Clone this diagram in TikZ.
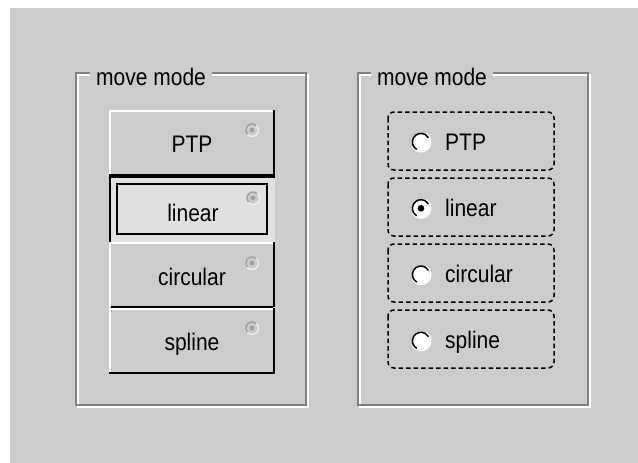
\documentclass[tikz,border=0pt]{standalone}
\usepackage{fontspec}
\setmainfont{Liberation Sans}
\usepackage{graphicx}

\definecolor{face}{RGB}{204,204,204}
\definecolor{shade}{RGB}{128,128,128}
\definecolor{dither}{RGB}{224,224,224}
\definecolor{iconring}{RGB}{160,160,160}
\definecolor{iconlit}{RGB}{238,238,238}

% taller glyphs, like the bitmap dialog font
\newcommand\uitext[1]{\scalebox{1}[1.14]{#1}}

\tikzset{
  uifont/.style={font=\fontsize{21}{24}\selectfont, inner sep=0pt},
  grouplabel/.style={uifont, fill=face, inner xsep=6pt, inner ysep=0pt, anchor=base west},
  btnlabel/.style={uifont, anchor=base},
  radiolabel/.style={uifont, anchor=base west},
  etchdark/.style={draw=shade, line width=1.6pt},
  etchlit/.style={draw=white, line width=1.6pt},
  optbox/.style={draw=black, line width=1.5pt, dash pattern=on 4.5pt off 3pt, rounded corners=6pt},
}

\begin{document}
\begin{tikzpicture}[x=1pt, y=-1pt]
\useasboundingbox (0,0) rectangle (638,463);
\fill[white] (0,0) rectangle (638,463);
\fill[face] (10,8) rectangle (638,463);

% ---------- group frames (etched) ----------
\draw[etchlit]  (78,75) rectangle (308,407);
\draw[etchdark] (76,73) rectangle (306,405);
\draw[etchlit]  (360,75) rectangle (590,407);
\draw[etchdark] (358,73) rectangle (588,405);
\node[grouplabel] (gl1) at (90,85) {\uitext{move mode}};
\node[grouplabel] (gl2) at (371,85) {\uitext{move mode}};

% ---------- push-button style options ----------
% raised: PTP
\fill[face] (109,110) rectangle (275,176);
\draw[white, line width=2pt] (110,175) -- (110,111) -- (274,111);
\draw[black, line width=2pt] (274,110) -- (274,175) -- (109,175);
% pressed: linear
\fill[dither] (109,176) rectangle (275,242);
\draw[black, line width=2pt] (110,242) -- (110,177) -- (275,177);
\draw[black, line width=1.6pt] (117,184) rectangle (267,234);
% raised: circular
\fill[face] (109,242) rectangle (275,308);
\draw[white, line width=2pt] (110,307) -- (110,243) -- (274,243);
\draw[black, line width=2pt] (274,242) -- (274,307);
\draw[shade, line width=2pt] (111,307) -- (273,307);
% raised: spline
\fill[face] (109,308) rectangle (275,374);
\draw[white, line width=2pt] (110,373) -- (110,309) -- (274,309);
\draw[black, line width=2pt] (274,308) -- (274,373) -- (109,373);

% greyed radio marks in the button corners
\foreach \cx/\cy in {252/130, 253/198, 252/263, 252/328} {
  \fill[face] (\cx,\cy) circle (6.5);
  \draw[iconring, line width=1.4pt] (\cx,\cy) ++(135:6) arc (135:315:6);
  \draw[iconlit, line width=1.4pt] (\cx,\cy) ++(315:6.5) arc (315:495:6.5);
  \fill[iconring] (\cx,\cy) circle (2.4);
}

\node[btnlabel] (bptp) at (192,152) {\uitext{PTP}};
\node[btnlabel] (blin) at (193,221) {\uitext{linear}};
\node[btnlabel] (bcir) at (192,285) {\uitext{circular}};
\node[btnlabel] (bspl) at (192,350) {\uitext{spline}};

% ---------- radio-button style options ----------
\foreach \k/\txt in {0/PTP, 1/linear, 2/circular, 3/spline} {
  \draw[optbox] (388,{112+66*\k}) rectangle (554,{170+66*\k});
  \coordinate (rc\k) at (421,{142+66.3*\k});
  \draw[white, line width=1.5pt] (rc\k) ++(300:9.8) arc (300:510:9.8);
  \fill[white] (rc\k) circle (8.8);
  \draw[black, line width=1.5pt] (rc\k) ++(120:8.6) arc (120:330:8.6);
  \node[radiolabel] (rl\k) at (445,{150+66*\k}) {\uitext{\txt}};
}
\fill[black] (rc1) circle (3.3);
\end{tikzpicture}
\end{document}
